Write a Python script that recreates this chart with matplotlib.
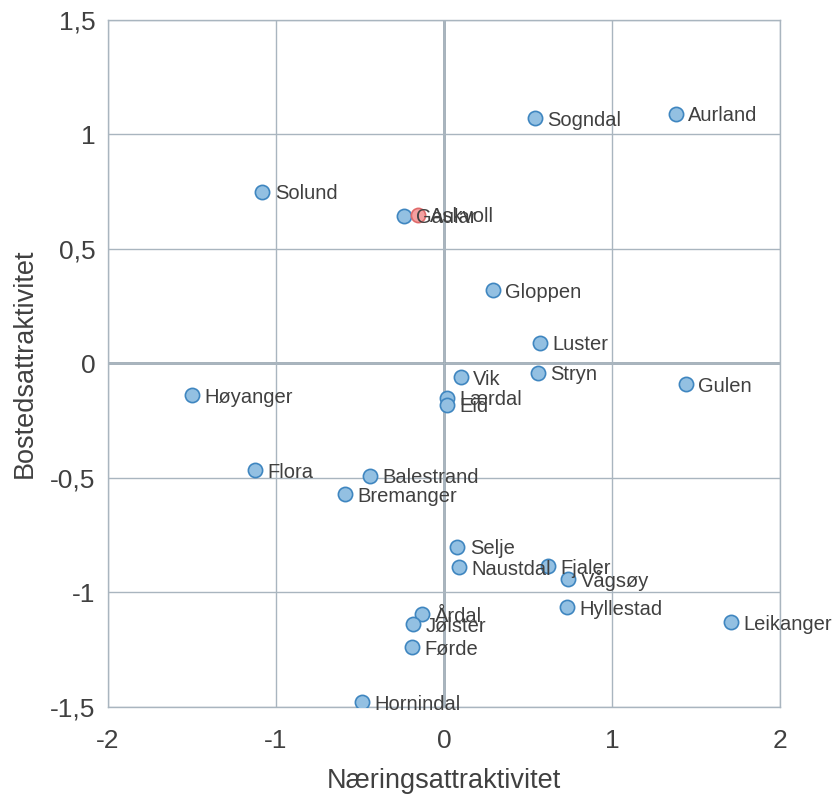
import matplotlib
matplotlib.use("Agg")
import matplotlib.pyplot as plt

plt.rcParams['font.family'] = ['Liberation Sans', 'DejaVu Sans']

names = ["Aurland", "Sogndal", "Solund", "Gaular", "Gloppen", "Luster", "Stryn",
         "Gulen", "Vik", "Lærdal", "Eid", "Høyanger", "Flora", "Balestrand",
         "Bremanger", "Selje", "Naustdal", "Fjaler", "Vågsøy", "Hyllestad",
         "Leikanger", "Årdal", "Jølster", "Førde", "Hornindal", "Askvoll"]
naering = [1.38, 0.54, -1.08, -0.24, 0.29, 0.57, 0.56,
           1.44, 0.10, 0.02, 0.02, -1.50, -1.125, -0.44,
           -0.59, 0.08, 0.09, 0.62, 0.74, 0.73,
           1.71, -0.13, -0.185, -0.19, -0.49, -0.155]
bosted = [1.09, 1.07, 0.75, 0.645, 0.32, 0.09, -0.04,
          -0.09, -0.06, -0.15, -0.18, -0.14, -0.465, -0.49,
          -0.57, -0.80, -0.89, -0.885, -0.94, -1.065,
          -1.13, -1.095, -1.14, -1.24, -1.48, 0.65]
highlight = "Askvoll"

xticks = [-2, -1, 0, 1, 2]
yticks = [-1.5, -1, -0.5, 0, 0.5, 1, 1.5]

fig = plt.figure(figsize=(8.36, 7.97), dpi=100)
ax = fig.add_axes([0.129, 0.113, 0.804, 0.862])

grid_c = "#a9b5bf"
txt_c = "#404040"

for n, x, y in zip(names, naering, bosted):
    if n == highlight:
        fc, ec = "#f4a0a0", "#e06a6a"
    else:
        fc, ec = "#93c0e2", "#3f86c0"
    ax.scatter([x], [y], s=105, facecolor=fc, edgecolor=ec, linewidth=1.2, zorder=3)
    ax.annotate(n, (x, y), xytext=(9, -1.5), textcoords="offset points",
                va="center", ha="left", fontsize=14.5, color=txt_c, zorder=4)

ax.set_xlim(-2, 2)
ax.set_ylim(-1.5, 1.5)
ax.set_xticks(xticks)
ax.set_yticks(yticks)
ax.set_xticklabels([str(t) for t in xticks])
ax.set_yticklabels([("%g" % t).replace(".", ",") for t in yticks])
ax.grid(True, color=grid_c, linewidth=1.0, zorder=0)
ax.axhline(0, color="#8c9aa6", linewidth=1.8, zorder=1)
ax.axvline(0, color="#8c9aa6", linewidth=1.8, zorder=1)
for s in ax.spines.values():
    s.set_color(grid_c)
    s.set_linewidth(1.0)
ax.tick_params(length=0, labelsize=19, colors=txt_c)
ax.tick_params(axis="x", pad=16)
ax.tick_params(axis="y", pad=9)
ax.set_xlabel("Næringsattraktivitet", fontsize=19.5, color=txt_c, labelpad=11)
ax.set_ylabel("Bostedsattraktivitet", fontsize=19.5, color=txt_c, labelpad=9)

fig.savefig("out.png", dpi=100)
